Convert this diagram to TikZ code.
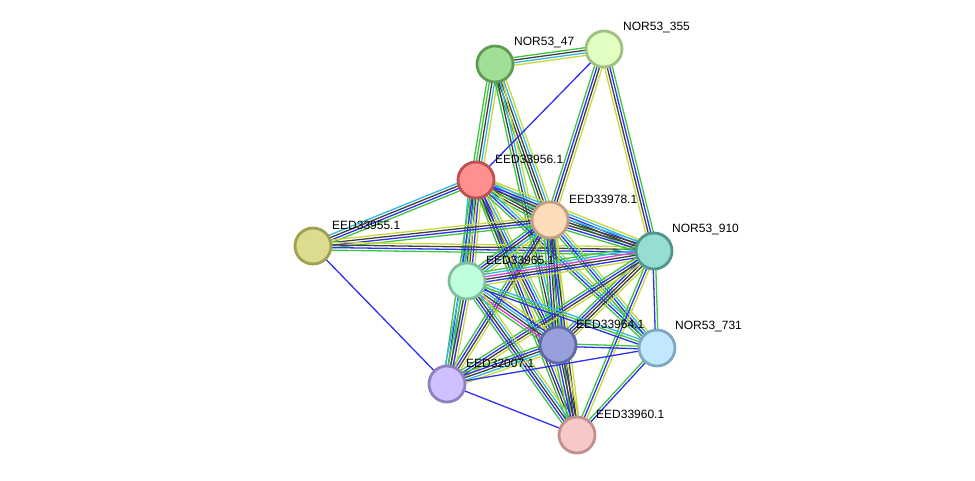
\documentclass[tikz,border=0pt]{standalone}
\usepackage{fontspec}
\setmainfont{Liberation Sans}
\usetikzlibrary{calc,backgrounds}

\definecolor{cnb}{RGB}{62,196,62}
\definecolor{cco}{RGB}{48,48,240}
\definecolor{ccx}{RGB}{64,64,64}
\definecolor{cex}{RGB}{220,60,220}
\definecolor{cdb}{RGB}{48,184,224}
\definecolor{ctm}{RGB}{200,216,60}

\definecolor{f47}{RGB}{160,224,150}  \definecolor{d47}{RGB}{95,155,85}
\definecolor{f355}{RGB}{224,255,192} \definecolor{d355}{RGB}{160,192,128}
\definecolor{f956}{RGB}{255,144,144} \definecolor{d956}{RGB}{192,80,80}
\definecolor{f978}{RGB}{255,220,185} \definecolor{d978}{RGB}{192,160,128}
\definecolor{f955}{RGB}{220,220,144} \definecolor{d955}{RGB}{160,160,80}
\definecolor{f910}{RGB}{150,222,210} \definecolor{d910}{RGB}{80,150,140}
\definecolor{f965}{RGB}{192,255,220} \definecolor{d965}{RGB}{128,192,160}
\definecolor{f964}{RGB}{152,160,220} \definecolor{d964}{RGB}{96,106,168}
\definecolor{f731}{RGB}{192,232,255} \definecolor{d731}{RGB}{128,168,192}
\definecolor{f007}{RGB}{208,192,255} \definecolor{d007}{RGB}{144,128,192}
\definecolor{f960}{RGB}{248,200,200} \definecolor{d960}{RGB}{192,144,144}

\tikzset{
  nb/.style={draw=cnb}, co/.style={draw=cco}, cx/.style={draw=ccx},
  ex/.style={draw=cex}, db/.style={draw=cdb}, tm/.style={draw=ctm},
}

% parallel evidence lines between two proteins
\newcommand{\link}[3]{%
  \foreach \c [count=\n] in {#3} {\xdef\nlinks{\n}}%
  \foreach \c [count=\i] in {#3} {%
    \pgfmathsetmacro{\off}{(\i-(\nlinks+1)/2)*2.6}%
    \draw[edge,\c] ($(#1)!\off pt!90:(#2)$) -- ($(#2)!\off pt!-90:(#1)$);
  }%
}

\begin{document}
\begin{tikzpicture}[x=1pt,y=-1pt,
  prot/.style 2 args={circle,minimum size=36pt,inner sep=0pt,line width=2.8pt,fill=#1,draw=#2},
  lbl/.style={anchor=west,inner sep=0pt,font=\fontsize{12}{14}\selectfont},
  edge/.style={line width=1.3pt}]
\useasboundingbox (0,0) rectangle (975,481);

\node[prot={f47}{d47}] (p47) at (495,64) {};
\node[prot={f355}{d355}] (p355) at (604,49) {};
\node[prot={f956}{d956}] (p956) at (476,180) {};
\node[prot={f978}{d978}] (p978) at (550,220) {};
\node[prot={f955}{d955}] (p955) at (313,246) {};
\node[prot={f910}{d910}] (p910) at (654,251) {};
\node[prot={f965}{d965}] (p965) at (467,281) {};
\node[prot={f964}{d964}] (p964) at (558,345) {};
\node[prot={f731}{d731}] (p731) at (657,348) {};
\node[prot={f007}{d007}] (p007) at (447,384) {};
\node[prot={f960}{d960}] (p960) at (577,435) {};

\node[lbl] (l47) at ($(p47)+(19,-21)$) {NOR53\_47};
\node[lbl] (l355) at ($(p355)+(19,-21)$) {NOR53\_355};
\node[lbl] (l956) at ($(p956)+(19,-21)$) {EED33956.1};
\node[lbl] (l978) at ($(p978)+(19,-21)$) {EED33978.1};
\node[lbl] (l955) at ($(p955)+(19,-21)$) {EED33955.1};
\node[lbl] (l910) at ($(p910)+(18,-21)$) {NOR53\_910};
\node[lbl] (l965) at ($(p965)+(19,-21)$) {EED33965.1};
\node[lbl] (l964) at ($(p964)+(18,-21)$) {EED33964.1};
\node[lbl] (l731) at ($(p731)+(18,-21)$) {NOR53\_731};
\node[lbl] (l007) at ($(p007)+(19,-21)$) {EED32007.1};
\node[lbl] (l960) at ($(p960)+(19,-21)$) {EED33960.1};

\begin{pgfonlayer}{background}
\link{p47}{p355}{tm,db,cx,nb}
\link{p47}{p956}{nb,nb,cx,db,tm}
\link{p47}{p978}{nb,cx,cx,db,tm}
\link{p47}{p964}{nb,cx,db,tm}
\link{p355}{p956}{co}
\link{p355}{p978}{nb,co,cx,tm}
\link{p355}{p910}{tm,cx,co,nb}
\link{p956}{p955}{db,cx,co,nb}
\link{p956}{p978}{nb,cx,cx,co,db,tm}
\link{p956}{p910}{nb,cx,co,db,tm}
\link{p956}{p965}{db,nb,cx,cx,co,tm}
\link{p956}{p964}{nb,cx,co,db,tm}
\link{p956}{p960}{nb,cx,co,tm}
\link{p956}{p731}{nb,co,db,tm}
\link{p956}{p007}{nb,co,db,tm}
\link{p955}{p978}{nb,co,cx,tm}
\link{p955}{p910}{nb,co,cx,tm}
\link{p955}{p007}{co}
\link{p978}{p910}{nb,co,cx,cx,db}
\link{p978}{p965}{nb,co,cx,db,tm}
\link{p978}{p964}{nb,co,cx,cx,db,tm}
\link{p978}{p960}{nb,co,cx,tm}
\link{p978}{p731}{nb,co,db,tm}
\link{p978}{p007}{nb,co,cx,tm}
\link{p910}{p965}{nb,db,ex,cx,co,tm}
\link{p910}{p964}{nb,co,cx,cx,tm}
\link{p910}{p007}{nb,co,cx,tm}
\link{p910}{p960}{nb,co,tm}
\link{p910}{p731}{co,nb}
\link{p965}{p964}{nb,ex,cx,db,co,tm}
\link{p965}{p007}{db,nb,cx,co,tm}
\link{p965}{p960}{nb,co,cx,db,tm}
\link{p965}{p731}{co,nb,db}
\link{p964}{p731}{co,nb}
\link{p964}{p007}{nb,co,cx,db,tm}
\link{p964}{p960}{nb,co,cx,cx,tm}
\link{p731}{p007}{co}
\link{p731}{p960}{nb,co}
\link{p007}{p960}{co}
\end{pgfonlayer}
\end{tikzpicture}
\end{document}
